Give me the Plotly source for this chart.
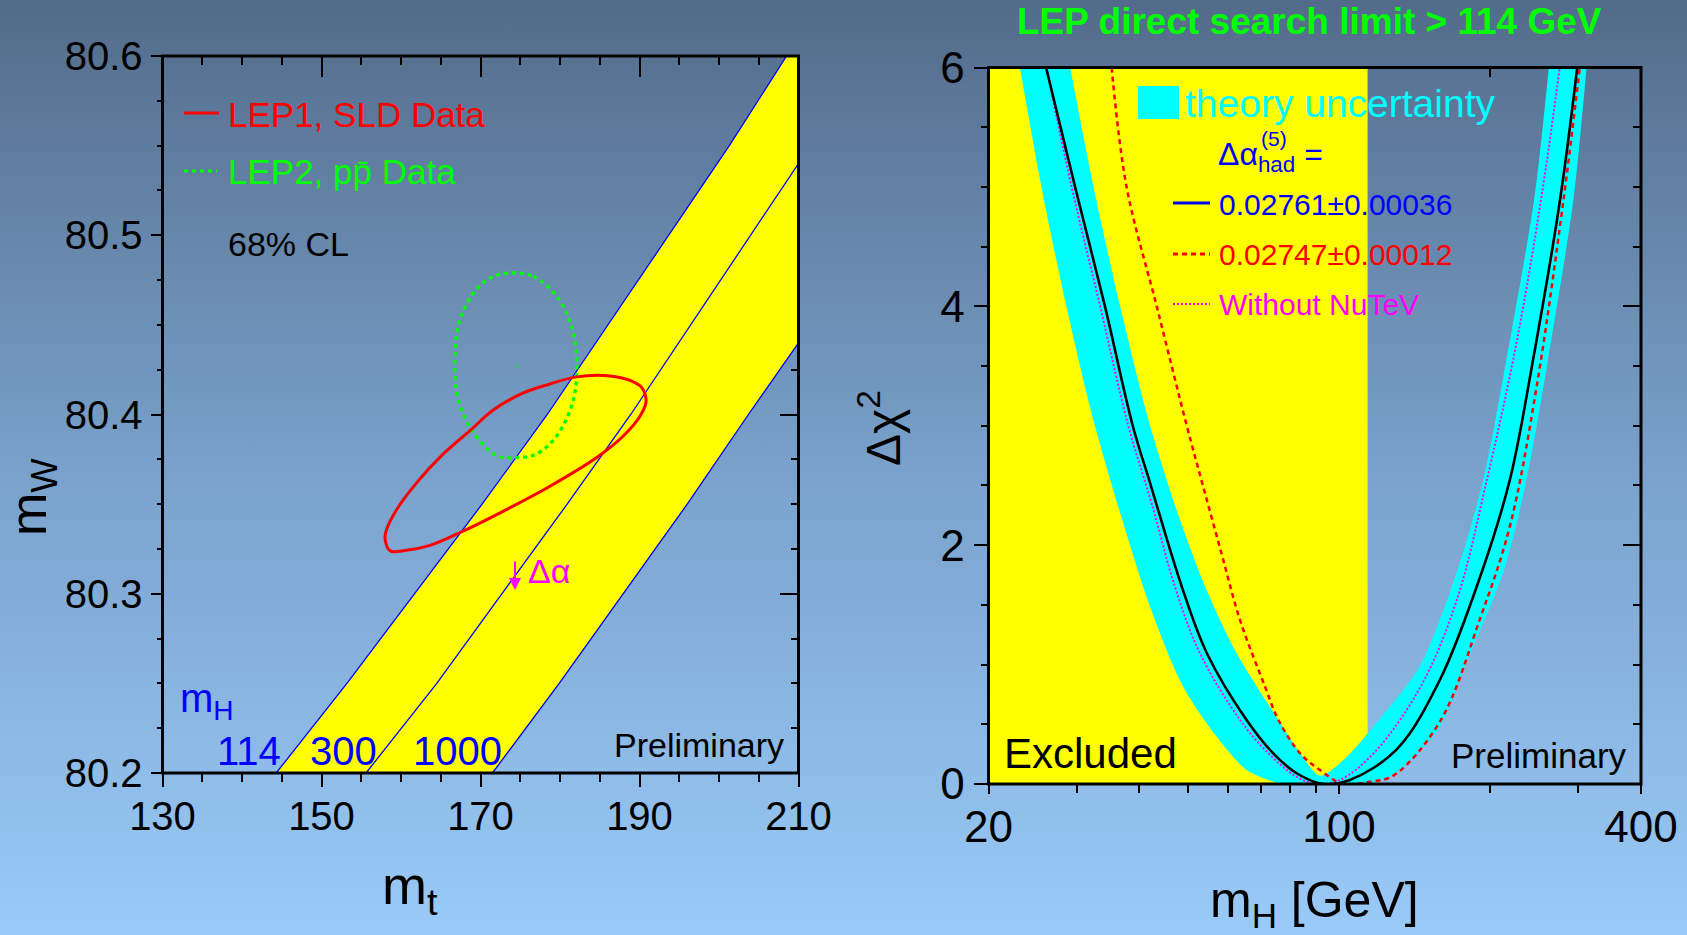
import base64
import math
import plotly.graph_objects as go

W, H = 1687, 935
FONT = "Liberation Sans, Arial, sans-serif"

# ---------------- Left panel data (m_t vs m_W) ----------------
mt_range = [130, 210]
mw_range = [80.2, 80.6]
mt_major = 20
mt_minor = 5
mw_major = 0.1
mw_minor = 0.025

# SM lines for m_H = 114, 300, 1000 GeV (m_t at given m_W)
mw_114 = [80.20, 80.25, 80.35, 80.40, 80.55, 80.60]
mt_114 = [144.3, 153.2, 170.2, 178.4, 201.3, 208.5]
mw_300 = [80.20, 80.25, 80.35, 80.40, 80.54]
mt_300 = [155.6, 164.5, 180.9, 188.9, 210.0]
mw_1000 = [80.20, 80.25, 80.35, 80.40, 80.44, 80.60]
mt_1000 = [171.5, 179.9, 196.0, 203.7, 210.0, 234.0]
mh_labels = ["114", "300", "1000"]

# 68% CL contours
lep1_mt = [157.99, 158.62, 160.29, 163.65, 167.84, 173.71, 178.74, 184.62, 187.96, 190.06,
           190.82, 190.28, 188.81, 186.29, 182.10, 178.74, 175.38, 171.61, 168.68, 165.32,
           161.98, 159.46, 158.20, 157.99]
lep1_mw = [80.331, 80.324, 80.324, 80.327, 80.335, 80.348, 80.360, 80.376, 80.388, 80.399,
           80.407, 80.415, 80.419, 80.4215, 80.421, 80.417, 80.412, 80.4025, 80.391, 80.378,
           80.362, 80.347, 80.336, 80.331]
lep2_mt = [174.13, 176.64, 179.58, 181.47, 182.10, 181.67, 179.58, 177.07, 174.76, 172.04,
           169.09, 167.21, 166.79, 167.42, 169.52, 171.61, 174.13]
lep2_mw = [80.479, 80.477, 80.466, 80.449, 80.430, 80.408, 80.388, 80.378, 80.376, 80.377,
           80.390, 80.408, 80.430, 80.453, 80.470, 80.477, 80.479]
lep2_center_mt = [174.55]
lep2_center_mw = [80.427]

# ---------------- Right panel data (Delta chi^2 vs m_H) ----------------
mh_range = [20, 400]
chi_range = [0, 6]
mh_tickvals = [20, 100, 400]
mh_minor = [30, 40, 50, 60, 70, 80, 90, 200, 300]
mh_top_ticks = [100, 200, 300]
excluded_mh = [20, 114]

band_low_mh = [23.1, 25.5, 28.6, 32.6, 42.0, 48.9, 57.0, 65.4, 73.9, 76.3, 113.5, 130.3,
               159.0, 178.3, 212.6, 236.6, 261.3, 293.2, 311.5]
band_low_chi = [6.0, 5.0, 4.0, 3.0, 1.485, 0.815, 0.397, 0.117, 0.02, 0.0, 0.0, 0.1,
                0.48, 0.99, 1.773, 2.552, 3.566, 4.89, 6.0]
band_high_mh = [29.1, 32.4, 36.6, 42.0, 48.2, 54.1, 62.5, 75.7, 83.6, 91.6, 102.0, 117.0,
                145.0, 171.7, 194.0, 215.9, 244.8, 262.0]
band_high_chi = [6.0, 5.0, 4.0, 3.0, 2.21, 1.65, 1.095, 0.536, 0.257, 0.07, 0.2, 0.48,
                 0.99, 1.773, 2.552, 3.566, 4.89, 6.0]

fit_mh = [26.05, 29.76, 34.14, 38.78, 42.0, 48.6, 54.5, 65.4, 73.9, 82.3, 93.0, 105.1,
          130.3, 159.0, 192.5, 219.2, 244.0, 275.8, 298.5]
fit_chi = [6.0, 5.0, 4.0, 3.0, 2.52, 1.65, 1.095, 0.536, 0.257, 0.09, 0.0, 0.034,
           0.29, 0.875, 1.773, 2.552, 3.566, 4.89, 6.0]

alt_mh = [35.2, 37.7, 43.3, 49.7, 53.6, 58.3, 63.5, 71.2, 75.7, 83.6, 91.6, 102.0, 115.3,
          128.3, 159.0, 191.0, 219.2, 247.8, 280.2, 302.0]
alt_chi = [6.0, 5.0, 4.0, 3.0, 2.49, 1.93, 1.37, 0.815, 0.536, 0.257, 0.117, 0.0, 0.02,
           0.07, 0.524, 1.383, 2.162, 3.33, 4.89, 6.0]

nonutev_mh = [26.1, 29.3, 33.4, 38.0, 42.3, 47.1, 52.8, 63.5, 72.3, 82.3, 90.3, 100.0,
              118.0, 146.5, 172.0, 196.0, 226.0, 254.0, 275.5]
nonutev_chi = [6.0, 5.0, 4.0, 3.0, 2.35, 1.65, 1.095, 0.536, 0.257, 0.06, 0.0, 0.03,
               0.27, 0.84, 1.55, 2.5, 3.7, 4.95, 6.0]

# ---------------- layout geometry (pixels) ----------------
L_BOX = (162.5, 56, 798.5, 773)
R_BOX = (988.5, 67.5, 1641, 784)


def PX(x):
    return x / W


def PY(y):
    return 1 - y / H


fig = go.Figure()

# left panel: yellow band between the 114 and 1000 lines
fig.add_trace(go.Scatter(x=mt_114 + mt_1000[::-1], y=mw_114 + mw_1000[::-1],
                         fill="toself", fillcolor="#ffff00", mode="none",
                         xaxis="x", yaxis="y", hoverinfo="skip"))
for xs, ys in [(mt_114, mw_114), (mt_300, mw_300), (mt_1000, mw_1000)]:
    fig.add_trace(go.Scatter(x=xs, y=ys, mode="lines", line=dict(color="#0000ff", width=1.3),
                             xaxis="x", yaxis="y", hoverinfo="skip"))
fig.add_trace(go.Scatter(x=lep2_mt, y=lep2_mw, mode="lines", line_shape="spline",
                         line=dict(color="#00ff00", width=3.2, dash="4px,4px"),
                         xaxis="x", yaxis="y", hoverinfo="skip"))
fig.add_trace(go.Scatter(x=lep2_center_mt, y=lep2_center_mw, mode="markers",
                         marker=dict(color="#00ff00", size=2), xaxis="x", yaxis="y",
                         hoverinfo="skip"))
fig.add_trace(go.Scatter(x=lep1_mt, y=lep1_mw, mode="lines", line_shape="spline",
                         line=dict(color="#ff0000", width=3),
                         xaxis="x", yaxis="y", hoverinfo="skip"))

# right panel
fig.add_trace(go.Scatter(x=[excluded_mh[0], excluded_mh[1], excluded_mh[1], excluded_mh[0]],
                         y=[chi_range[0], chi_range[0], chi_range[1], chi_range[1]],
                         fill="toself", fillcolor="#ffff00", mode="none",
                         xaxis="x2", yaxis="y2", hoverinfo="skip"))
# theory band: lower envelope, then upper envelope filled to it
fig.add_trace(go.Scatter(x=band_low_mh, y=band_low_chi, mode="lines",
                         line=dict(width=0, shape="spline", smoothing=0.8, color="#00ffff"),
                         xaxis="x2", yaxis="y2", hoverinfo="skip"))
fig.add_trace(go.Scatter(x=band_high_mh, y=band_high_chi, mode="lines", fill="tonexty",
                         fillcolor="#00ffff",
                         line=dict(width=0, shape="spline", smoothing=0.8, color="#00ffff"),
                         xaxis="x2", yaxis="y2", hoverinfo="skip"))
fig.add_trace(go.Scatter(x=nonutev_mh, y=nonutev_chi, mode="lines", line_shape="spline",
                         line=dict(color="#ff00ff", width=2, dash="2px,2px"),
                         xaxis="x2", yaxis="y2", hoverinfo="skip"))
fig.add_trace(go.Scatter(x=alt_mh, y=alt_chi, mode="lines", line_shape="spline",
                         line=dict(color="#ff0000", width=2.5, dash="5px,4px"),
                         xaxis="x2", yaxis="y2", hoverinfo="skip"))
fig.add_trace(go.Scatter(x=fit_mh, y=fit_chi, mode="lines", line_shape="spline",
                         line=dict(color="#000000", width=2.6),
                         xaxis="x2", yaxis="y2", hoverinfo="skip"))

# dummy traces for the mirrored (inside-tick) axes
fig.add_trace(go.Scatter(x=[None], y=[None], xaxis="x3", yaxis="y3", hoverinfo="skip"))
fig.add_trace(go.Scatter(x=[None], y=[None], xaxis="x4", yaxis="y4", hoverinfo="skip"))

ldom_x = [PX(L_BOX[0]), PX(L_BOX[2])]
ldom_y = [PY(L_BOX[3]), PY(L_BOX[1])]
rdom_x = [PX(R_BOX[0]), PX(R_BOX[2])]
rdom_y = [PY(R_BOX[3]), PY(R_BOX[1])]

base = dict(showgrid=False, zeroline=False, showline=False, layer="below traces",
            tickcolor="black", tickwidth=2, automargin=False)
tf_left = dict(family=FONT, size=40, color="black")
tf_right = dict(family=FONT, size=44, color="black")

lr_log = [math.log10(mh_range[0]), math.log10(mh_range[1])]

fig.update_layout(
    width=W, height=H, margin=dict(l=0, r=0, t=0, b=0, pad=0), autosize=False,
    paper_bgcolor="#7aa2cc", plot_bgcolor="rgba(0,0,0,0)", showlegend=False,
    xaxis=dict(base, domain=ldom_x, range=mt_range, anchor="y", tickmode="linear",
               tick0=mt_range[0], dtick=mt_major, ticks="outside", ticklen=13,
               tickfont=tf_left, ticklabelstandoff=-5,
               minor=dict(tick0=mt_range[0], dtick=mt_minor, ticks="outside", ticklen=8,
                          tickwidth=2, tickcolor="black")),
    yaxis=dict(base, domain=ldom_y, range=mw_range, anchor="x", tickmode="linear",
               tick0=mw_range[0], dtick=mw_major, ticks="outside", ticklen=11,
               tickformat=".1f", tickfont=tf_left, ticklabelstandoff=0,
               minor=dict(tick0=mw_range[0], dtick=mw_minor, ticks="outside", ticklen=5,
                          tickwidth=2, tickcolor="black")),
    xaxis3=dict(base, overlaying="x", anchor="y", side="top", range=mt_range,
                tickmode="linear", tick0=mt_range[0], dtick=mt_major, ticks="inside",
                ticklen=21, showticklabels=False,
                minor=dict(tick0=mt_range[0], dtick=mt_minor, ticks="inside", ticklen=9,
                           tickwidth=2, tickcolor="black")),
    yaxis3=dict(base, overlaying="y", anchor="x", side="right", range=mw_range,
                tickmode="linear", tick0=mw_range[0], dtick=mw_major, ticks="inside",
                ticklen=19, showticklabels=False,
                minor=dict(tick0=mw_range[0], dtick=mw_minor, ticks="inside", ticklen=8,
                           tickwidth=2, tickcolor="black")),
    xaxis2=dict(base, domain=rdom_x, type="log", range=lr_log, anchor="y2",
                tickmode="array", tickvals=mh_tickvals, ticktext=[str(v) for v in mh_tickvals],
                ticks="outside", ticklen=9, tickfont=tf_right, ticklabelstandoff=-5,
                minor=dict(tickmode="array", tickvals=mh_minor, ticks="outside", ticklen=8,
                           tickwidth=2, tickcolor="black")),
    yaxis2=dict(base, domain=rdom_y, range=chi_range, anchor="x2", tickmode="linear",
                tick0=0, dtick=2, ticks="outside", ticklen=14, tickfont=tf_right,
                ticklabelstandoff=0,
                minor=dict(tick0=0, dtick=0.5, ticks="outside", ticklen=7, tickwidth=2,
                           tickcolor="black")),
    xaxis4=dict(base, overlaying="x2", type="log", range=lr_log, anchor="y2", side="top",
                tickmode="array", tickvals=mh_top_ticks, ticks="inside", ticklen=9,
                showticklabels=False),
    yaxis4=dict(base, overlaying="y2", anchor="x2", side="right", range=chi_range,
                tickmode="linear", tick0=0, dtick=2, ticks="inside", ticklen=18,
                showticklabels=False,
                minor=dict(tick0=0, dtick=0.5, ticks="inside", ticklen=8, tickwidth=2,
                           tickcolor="black")),
)

# background gradient
svg = (f'<svg xmlns="http://www.w3.org/2000/svg" width="{W}" height="{H}" '
       f'viewBox="0 0 {W} {H}" preserveAspectRatio="none"><defs>'
       '<linearGradient id="g" x1="0" y1="0" x2="0" y2="1">'
       '<stop offset="0" stop-color="#536b8a"/><stop offset="0.5" stop-color="#79a1cb"/>'
       '<stop offset="1" stop-color="#9acaf8"/></linearGradient></defs>'
       f'<rect x="0" y="0" width="{W}" height="{H}" fill="url(#g)"/></svg>')
src = "data:image/svg+xml;base64," + base64.b64encode(svg.encode()).decode()
fig.add_layout_image(dict(source=src, xref="paper", yref="paper", x=0, y=1, sizex=1, sizey=1,
                          sizing="stretch", xanchor="left", yanchor="top", layer="below"))

# frames
for xr, yr in [("x domain", "y domain"), ("x2 domain", "y2 domain")]:
    fig.add_shape(type="rect", xref=xr, yref=yr, x0=0, x1=1, y0=0, y1=1,
                  line=dict(color="black", width=3), layer="above")


def seg(x0, x1, y, color, width, dash="solid"):
    fig.add_shape(type="line", xref="paper", yref="paper", x0=PX(x0), x1=PX(x1),
                  y0=PY(y), y1=PY(y), line=dict(color=color, width=width, dash=dash),
                  layer="above")


def txt(s, x, base_y, size, color, xanchor="left", bold=False):
    fig.add_annotation(text=(f"<b>{s}</b>" if bold else s), x=PX(x), y=PY(base_y - 0.35 * size),
                       xref="paper", yref="paper", xanchor=xanchor, yanchor="middle",
                       showarrow=False, font=dict(family=FONT, size=size, color=color))


def rot(s, cx, cy, size, color):
    fig.add_annotation(text=s, x=PX(cx), y=PY(cy), xref="paper", yref="paper",
                       xanchor="center", yanchor="middle", textangle=-90, showarrow=False,
                       font=dict(family=FONT, size=size, color=color))


# left panel labels
seg(184, 219, 113, "#ff0000", 3)
txt("LEP1, SLD Data", 226, 127, 35, "#ff0000")
seg(184, 217, 171, "#00ff00", 3, "4px,4px")
txt("LEP2, pp\u0304 Data", 226, 184, 35, "#00ff00")
txt("68% CL", 226, 256, 34, "black")
txt("m<sub>H</sub>", 178, 715, 40, "#0000ff")
txt(mh_labels[0], 249, 765, 40, "#0000ff", "center")
txt(mh_labels[1], 343, 765, 40, "#0000ff", "center")
txt(mh_labels[2], 458, 765, 40, "#0000ff", "center")
txt("Preliminary", 786, 757, 34, "black", "right")
txt("\u0394\u03b1", 526, 583, 34, "#ff00ff")
fig.add_annotation(x=PX(515), y=PY(590), ax=0, ay=-30, xref="paper", yref="paper",
                   axref="pixel", ayref="pixel", text="", showarrow=True, arrowhead=2,
                   arrowsize=1.2, arrowwidth=2, arrowcolor="#ff00ff")
rot("m<sub>W</sub>", 32, 497, 52, "black")
txt("m<sub>t</sub>", 410, 908, 54, "black", "center")

# right panel labels
txt("LEP direct search limit &gt; 114 GeV", 1309, 34, 37, "#00ff00", "center", bold=True)
fig.add_shape(type="rect", xref="paper", yref="paper", x0=PX(1138), x1=PX(1179),
              y0=PY(119), y1=PY(86), line=dict(width=0), fillcolor="#00ffff", layer="above")
txt("theory uncertainty", 1183, 117, 39, "#00ffff")
txt("\u0394\u03b1<sub>had</sub> =", 1216, 168, 32, "#0000ff")
txt("(5)", 1259, 146, 21, "#0000ff")
seg(1173, 1210, 203, "#0000ff", 3)
txt("0.02761\u00b10.00036", 1217, 215, 30, "#0000ff")
seg(1173, 1210, 254, "#ff0000", 3, "5px,4px")
txt("0.02747\u00b10.00012", 1217, 265, 30, "#ff0000")
seg(1173, 1210, 304, "#ff00ff", 2, "2px,2px")
txt("Without NuTeV", 1217, 315, 30, "#ff00ff")
txt("Excluded", 1002, 768, 42, "black")
txt("Preliminary", 1629, 768, 35, "black", "right")
rot("\u0394\u03c7<sup>2</sup>", 880, 428, 48, "black")
txt("m<sub>H</sub> [GeV]", 1314, 921, 50, "black", "center")

fig.write_html("out.html", config={"displayModeBar": False})
